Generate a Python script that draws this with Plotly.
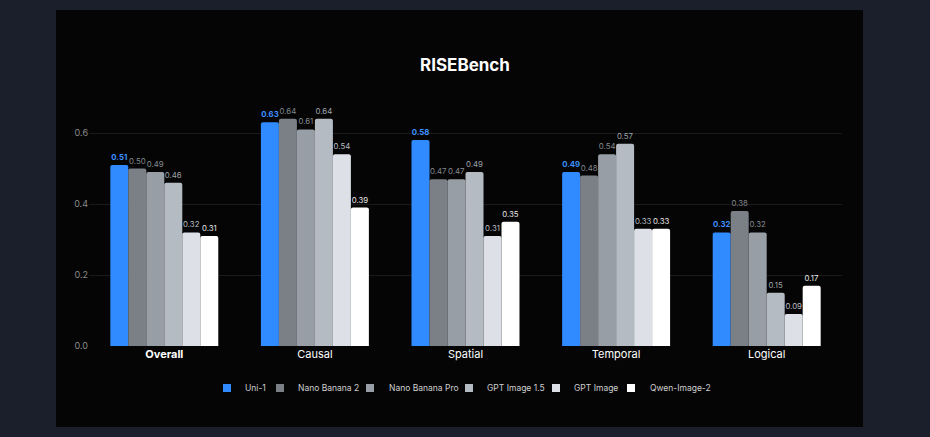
import plotly.graph_objects as go

categories = ["Overall", "Causal", "Spatial", "Temporal", "Logical"]
tick_labels = ["<b>Overall</b>", "Causal", "Spatial", "Temporal", "Logical"]
series_names = ["Uni-1", "Nano Banana 2", "Nano Banana Pro", "GPT Image 1.5", "GPT Image", "Qwen-Image-2"]

uni1 = [0.51, 0.63, 0.58, 0.49, 0.32]
nano_banana_2 = [0.50, 0.64, 0.47, 0.48, 0.38]
nano_banana_pro = [0.49, 0.61, 0.47, 0.54, 0.32]
gpt_image_15 = [0.46, 0.64, 0.49, 0.57, 0.15]
gpt_image = [0.32, 0.54, 0.31, 0.33, 0.09]
qwen_image_2 = [0.31, 0.39, 0.35, 0.33, 0.17]

series_values = [uni1, nano_banana_2, nano_banana_pro, gpt_image_15, gpt_image, qwen_image_2]
bar_colors = ["#2f8bff", "#7b8087", "#989ea5", "#b5bbc3", "#dde0e6", "#ffffff"]
text_colors = ["#3d8fff", "#80858c", "#868b92", "#9ea3aa", "#b9bdc3", "#e6e6e6"]

FONT = "Inter, Roboto, 'Noto Sans', sans-serif"

# plot-area geometry (pixels)
PL, PR, PT, PB = 89, 842, 97, 346
PW, PH = PR - PL, PB - PT


def px_x(px):
    return (px - PL) / PW


def px_y(py):
    return (PB - py) / PH


fig = go.Figure()
for i, (name, vals) in enumerate(zip(series_names, series_values)):
    tmpl = "<b>%{y:.2f}</b>" if i == 0 else "%{y:.2f}"
    fig.add_trace(go.Bar(
        x=categories, y=vals, name=name,
        marker=dict(color=bar_colors[i], cornerradius=2, line=dict(width=0)),
        texttemplate=tmpl, textposition="outside",
        textfont=dict(size=8, color=text_colors[i], family=FONT),
        cliponaxis=False, showlegend=False,
    ))

# manual legend (compact spacing like the reference)
legend_marker_px = [227, 280, 370, 469, 556, 631]
legend_text_px = [243, 296, 387, 485, 572, 648]
LEG_Y = 388
shapes = [dict(type="rect", xref="paper", yref="paper",
               x0=px_x(56), x1=px_x(863), y0=px_y(427), y1=px_y(10),
               fillcolor="#050505", line=dict(width=0), layer="below")]
annotations = []
for i, name in enumerate(series_names):
    mx = legend_marker_px[i]
    shapes.append(dict(type="rect", xref="paper", yref="paper",
                       x0=px_x(mx - 4), x1=px_x(mx + 4),
                       y0=px_y(LEG_Y + 4), y1=px_y(LEG_Y - 4),
                       fillcolor=bar_colors[i], line=dict(width=0), layer="above"))
    annotations.append(dict(text=name, xref="paper", yref="paper",
                            x=px_x(legend_text_px[i]), y=px_y(LEG_Y),
                            xanchor="left", yanchor="middle", showarrow=False,
                            font=dict(size=8.5, color="#cfcfcf", family=FONT)))

fig.update_layout(
    width=930, height=437,
    margin=dict(l=PL, r=930 - PR, t=PT, b=437 - PB),
    paper_bgcolor="#1b1f2c",
    plot_bgcolor="rgba(0,0,0,0)",
    barmode="group", bargap=0.283, bargroupgap=0,
    font=dict(family=FONT, color="#e0e0e0"),
    title=dict(text="<b>RISEBench</b>", x=0.5, xanchor="center",
               y=1 - 65 / 437, yanchor="middle", yref="container",
               font=dict(size=17, color="#ffffff", family=FONT)),
    showlegend=False,
    uniformtext=dict(minsize=7, mode="show"),
    shapes=shapes,
    annotations=annotations,
)
fig.update_xaxes(
    tickvals=categories, ticktext=tick_labels,
    tickfont=dict(size=11, color="#ffffff", family=FONT),
    showgrid=False, showline=False, ticks="",
)
fig.update_yaxes(
    range=[0, PH / 355], tickvals=[0, 0.2, 0.4, 0.6], tickformat=".1f",
    tickfont=dict(size=9, color="#8a8a8a", family=FONT),
    gridcolor="#1a1a1a", gridwidth=1, zeroline=False, showline=False, ticks="",
    ticklabelstandoff=0,
)

fig.write_html("out.html", config={"displayModeBar": False},
               post_script="document.body.style.margin='0';document.body.style.background='#1b1f2c';")
